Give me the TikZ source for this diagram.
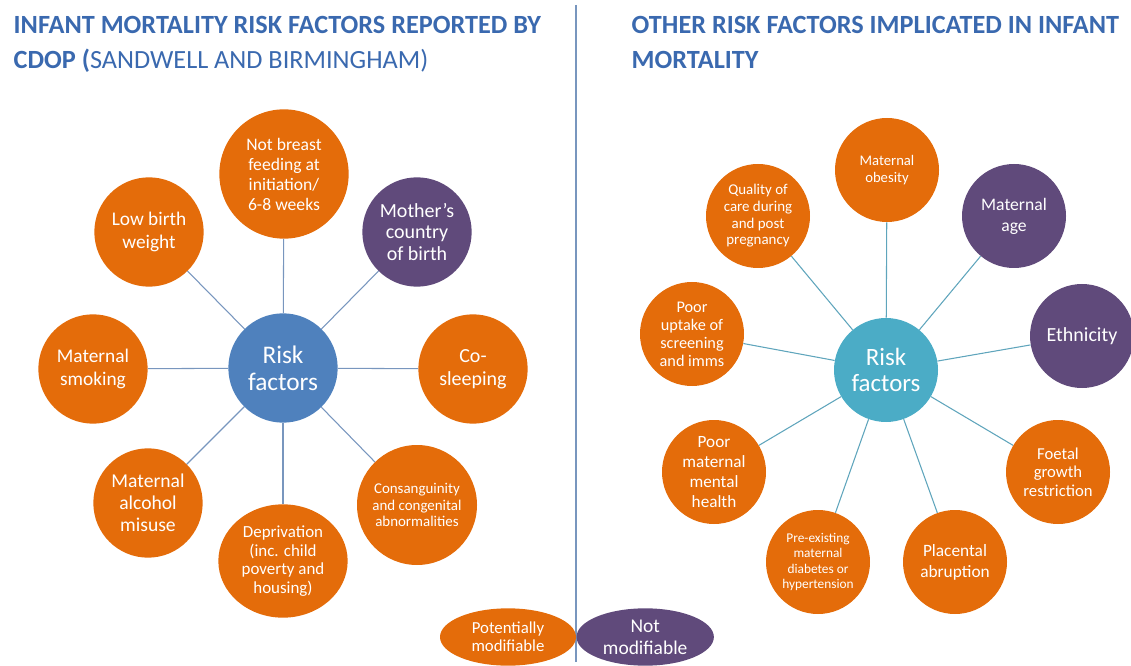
\documentclass[tikz,border=0pt]{standalone}
\usepackage{fontspec}
\setmainfont{Carlito}
\usetikzlibrary{shapes.geometric, positioning}

\definecolor{modorange}{RGB}{228,108,10}
\definecolor{fixpurple}{RGB}{96,74,123}
\definecolor{hubblue}{RGB}{79,129,189}
\definecolor{hubteal}{RGB}{75,172,198}
\definecolor{titleblue}{RGB}{58,105,175}
\definecolor{spokeblue}{RGB}{120,150,190}
\definecolor{spoketeal}{RGB}{95,165,188}

\newcommand{\fs}[2]{\fontsize{#1}{#2}\selectfont}

\begin{document}
\begin{tikzpicture}[
    x=0.75pt, y=-0.75pt,
    factor/.style={circle, inner sep=0pt, text=white, align=center,
                   minimum size=82pt},
    modf/.style={factor, fill=modorange},
    fixf/.style={factor, fill=fixpurple},
    hub/.style={factor, font=\fs{19}{20}},
    spoke/.style={draw=spokeblue, line width=0.8pt},
    spokeR/.style={draw=spoketeal, line width=0.8pt},
    heading/.style={anchor=base west, text=titleblue, font=\fs{19.7}{22}\bfseries}
]
\useasboundingbox (0,0) rectangle (1131,666);

% headings and divider
\node[heading] (hl1) at (9,34) {INFANT MORTALITY RISK FACTORS REPORTED BY};
\node[heading] (hl2) at (9,69) {CDOP (\mdseries SANDWELL AND BIRMINGHAM)};
\node[heading] (hr1) at (627,34) {OTHER RISK FACTORS IMPLICATED IN INFANT};
\node[heading] (hr2) at (627,69) {MORTALITY};
\draw[spokeblue, line width=0.8pt] (576,5) -- (576,662);

% left wheel
\node[hub, fill=hubblue] (hubL) at (283,368) {Risk\\factors};
\node[modf, minimum size=97pt, font=\fs{13.2}{15}] (nbf) at (284,174)
    {Not breast\\feeding at\\initiation/\\6-8 weeks};
\node[fixf, font=\fs{15}{16.2}] (mcob) at (417,232) {Mother’s\\country\\of birth};
\node[modf, font=\fs{14.5}{17}] (lbw) at (149,232) {Low birth\\weight};
\node[modf, font=\fs{14.5}{17}] (msmk) at (93,369) {Maternal\\smoking};
\node[modf, font=\fs{15}{17}] (cosl) at (473,369) {Co-\\sleeping};
\node[modf, font=\fs{14.7}{16.5}] (malc) at (148,503) {Maternal\\alcohol\\misuse};
\node[modf, ellipse, minimum width=97pt, minimum height=85pt,
      font=\fs{12.7}{13.8}] (depr) at (283,561)
    {Deprivation\\(inc. child\\poverty and\\housing)};
\node[modf, minimum size=90pt, font=\fs{11.2}{12.5}] (cons) at (417,505)
    {Consanguinity\\and congenital\\abnormalities};

\foreach \f in {nbf, mcob, lbw, msmk, cosl, malc, depr, cons}
    \draw[spoke] (hubL) -- (\f);

% right wheel
\node[hub, fill=hubteal, minimum size=78pt, font=\fs{18.7}{20}] (hubR) at (886,370) {Risk\\factors};
\node[modf, minimum size=78pt, font=\fs{11}{12.8}] (mobe) at (887,170) {Maternal\\obesity};
\node[modf, minimum size=78pt, font=\fs{11.2}{12.5}] (qcare) at (758,216)
    {Quality of\\care during\\and post\\pregnancy};
\node[fixf, minimum size=78pt, font=\fs{13.2}{15.7}] (mage) at (1014,216) {Maternal\\age};
\node[modf, minimum size=78pt, font=\fs{12.2}{13.5}] (upt) at (692,334)
    {Poor\\uptake of\\screening\\and imms};
\node[fixf, minimum size=78pt, font=\fs{15}{16}] (eth) at (1082,336) {Ethnicity};
\node[modf, minimum size=78pt, font=\fs{12.9}{14.8}] (pmmh) at (714,472)
    {Poor\\maternal\\mental\\health};
\node[modf, minimum size=78pt, font=\fs{12.5}{13.9}] (fgr) at (1058,472)
    {Foetal\\growth\\restriction};
\node[modf, minimum size=78pt, font=\fs{10}{11.5}] (pre) at (818,562)
    {Pre-existing\\maternal\\diabetes or\\hypertension};
\node[modf, minimum size=78pt, font=\fs{13}{15.7}] (plac) at (955,562)
    {Placental\\abruption};

\foreach \f in {mobe, qcare, mage, upt, eth, pmmh, fgr, pre, plac}
    \draw[spokeR] (hubR) -- (\f);

% key
\node[ellipse, fill=modorange, text=white, minimum width=102pt, minimum height=43pt,
      inner sep=0pt, align=center, font=\fs{12.6}{13.5}] (keymod) at (508,637)
    {Potentially\\modifiable};
\node[ellipse, fill=fixpurple, text=white, minimum width=103pt, minimum height=43pt,
      inner sep=0pt, align=center, font=\fs{14.6}{16.5}, right=0pt of keymod] (keyfix)
    {Not\\modifiable};
\end{tikzpicture}
\end{document}
